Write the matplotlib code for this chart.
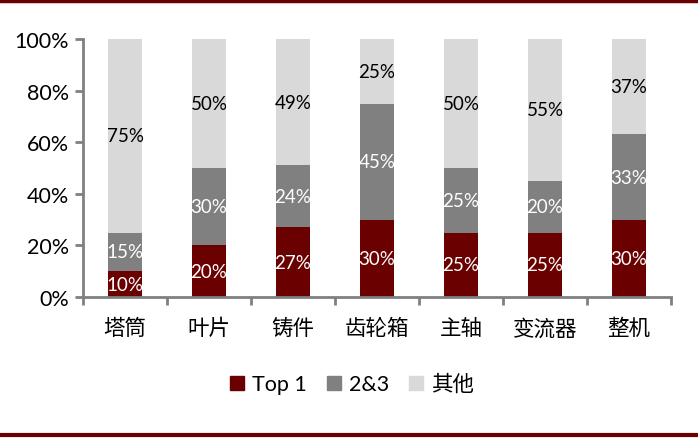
import matplotlib
matplotlib.use("Agg")
import matplotlib.pyplot as plt
from matplotlib.lines import Line2D
import numpy as np

categories = ["塔筒", "叶片", "铸件", "齿轮箱", "主轴", "变流器", "整机"]
top1 = [10, 20, 27, 30, 25, 25, 30]
top23 = [15, 30, 24, 45, 25, 20, 33]
others = [75, 50, 49, 25, 50, 55, 37]
series_names = ["Top 1", "2&3", "其他"]
yticks = [0, 20, 40, 60, 80, 100]

plt.rcParams['font.family'] = ['Lato', 'Noto Sans CJK SC', 'DejaVu Sans']

c1, c2, c3 = "#6B0000", "#808080", "#D9D9D9"
fig = plt.figure(figsize=(6.98, 4.39), dpi=100)
ax = fig.add_axes([83/698, 1-298/439, 588/698, 258/439])

x = np.arange(len(categories))
w = 0.4
b1 = ax.bar(x, top1, w, color=c1)
b2 = ax.bar(x, top23, w, bottom=top1, color=c2)
bot3 = [a + b for a, b in zip(top1, top23)]
b3 = ax.bar(x, others, w, bottom=bot3, color=c3)

fs = 13.5
for i in range(len(categories)):
    ax.text(x[i], top1[i] / 2, f"{top1[i]}%", ha="center", va="center", color="white", fontsize=fs)
    ax.text(x[i], top1[i] + top23[i] / 2, f"{top23[i]}%", ha="center", va="center", color="white", fontsize=fs)
    ax.text(x[i], bot3[i] + others[i] / 2, f"{others[i]}%", ha="center", va="center", color="black", fontsize=fs)

ax.set_xlim(-0.5, len(categories) - 0.5)
ax.set_ylim(0, 100)
ax.set_yticks(yticks)
ax.set_yticklabels([f"{v}%" for v in yticks], fontsize=15.5)
ax.set_xticks(x)
ax.set_xticklabels(categories, fontsize=15.5)
ax.tick_params(axis='x', length=0, pad=15)
ax.set_xticks(np.arange(-0.5, len(categories) + 0.5, 1), minor=True)
ax.tick_params(axis='x', which='minor', length=6, width=2, color="#808080")
ax.tick_params(axis='y', length=6, width=2, color="#808080", pad=4)
for s in ["top", "right"]:
    ax.spines[s].set_visible(False)
for s in ["left", "bottom"]:
    ax.spines[s].set_color("#808080")
    ax.spines[s].set_linewidth(2)

handles = [Line2D([], [], marker='s', linestyle='none', markersize=10, color=c) for c in (c1, c2, c3)]
fig.legend(handles, series_names, loc="center", bbox_to_anchor=(352/698, 1-385/439), ncol=3,
           frameon=False, fontsize=15.5, handlelength=0.7, handletextpad=0.35, columnspacing=0.9)

fig.add_artist(Line2D([0, 1], [1-2/439, 1-2/439], color="#6B0000", linewidth=2.5, transform=fig.transFigure))
fig.add_artist(Line2D([0, 1], [1-436/439, 1-436/439], color="#6B0000", linewidth=3, transform=fig.transFigure))

fig.savefig("out.png", dpi=100)
